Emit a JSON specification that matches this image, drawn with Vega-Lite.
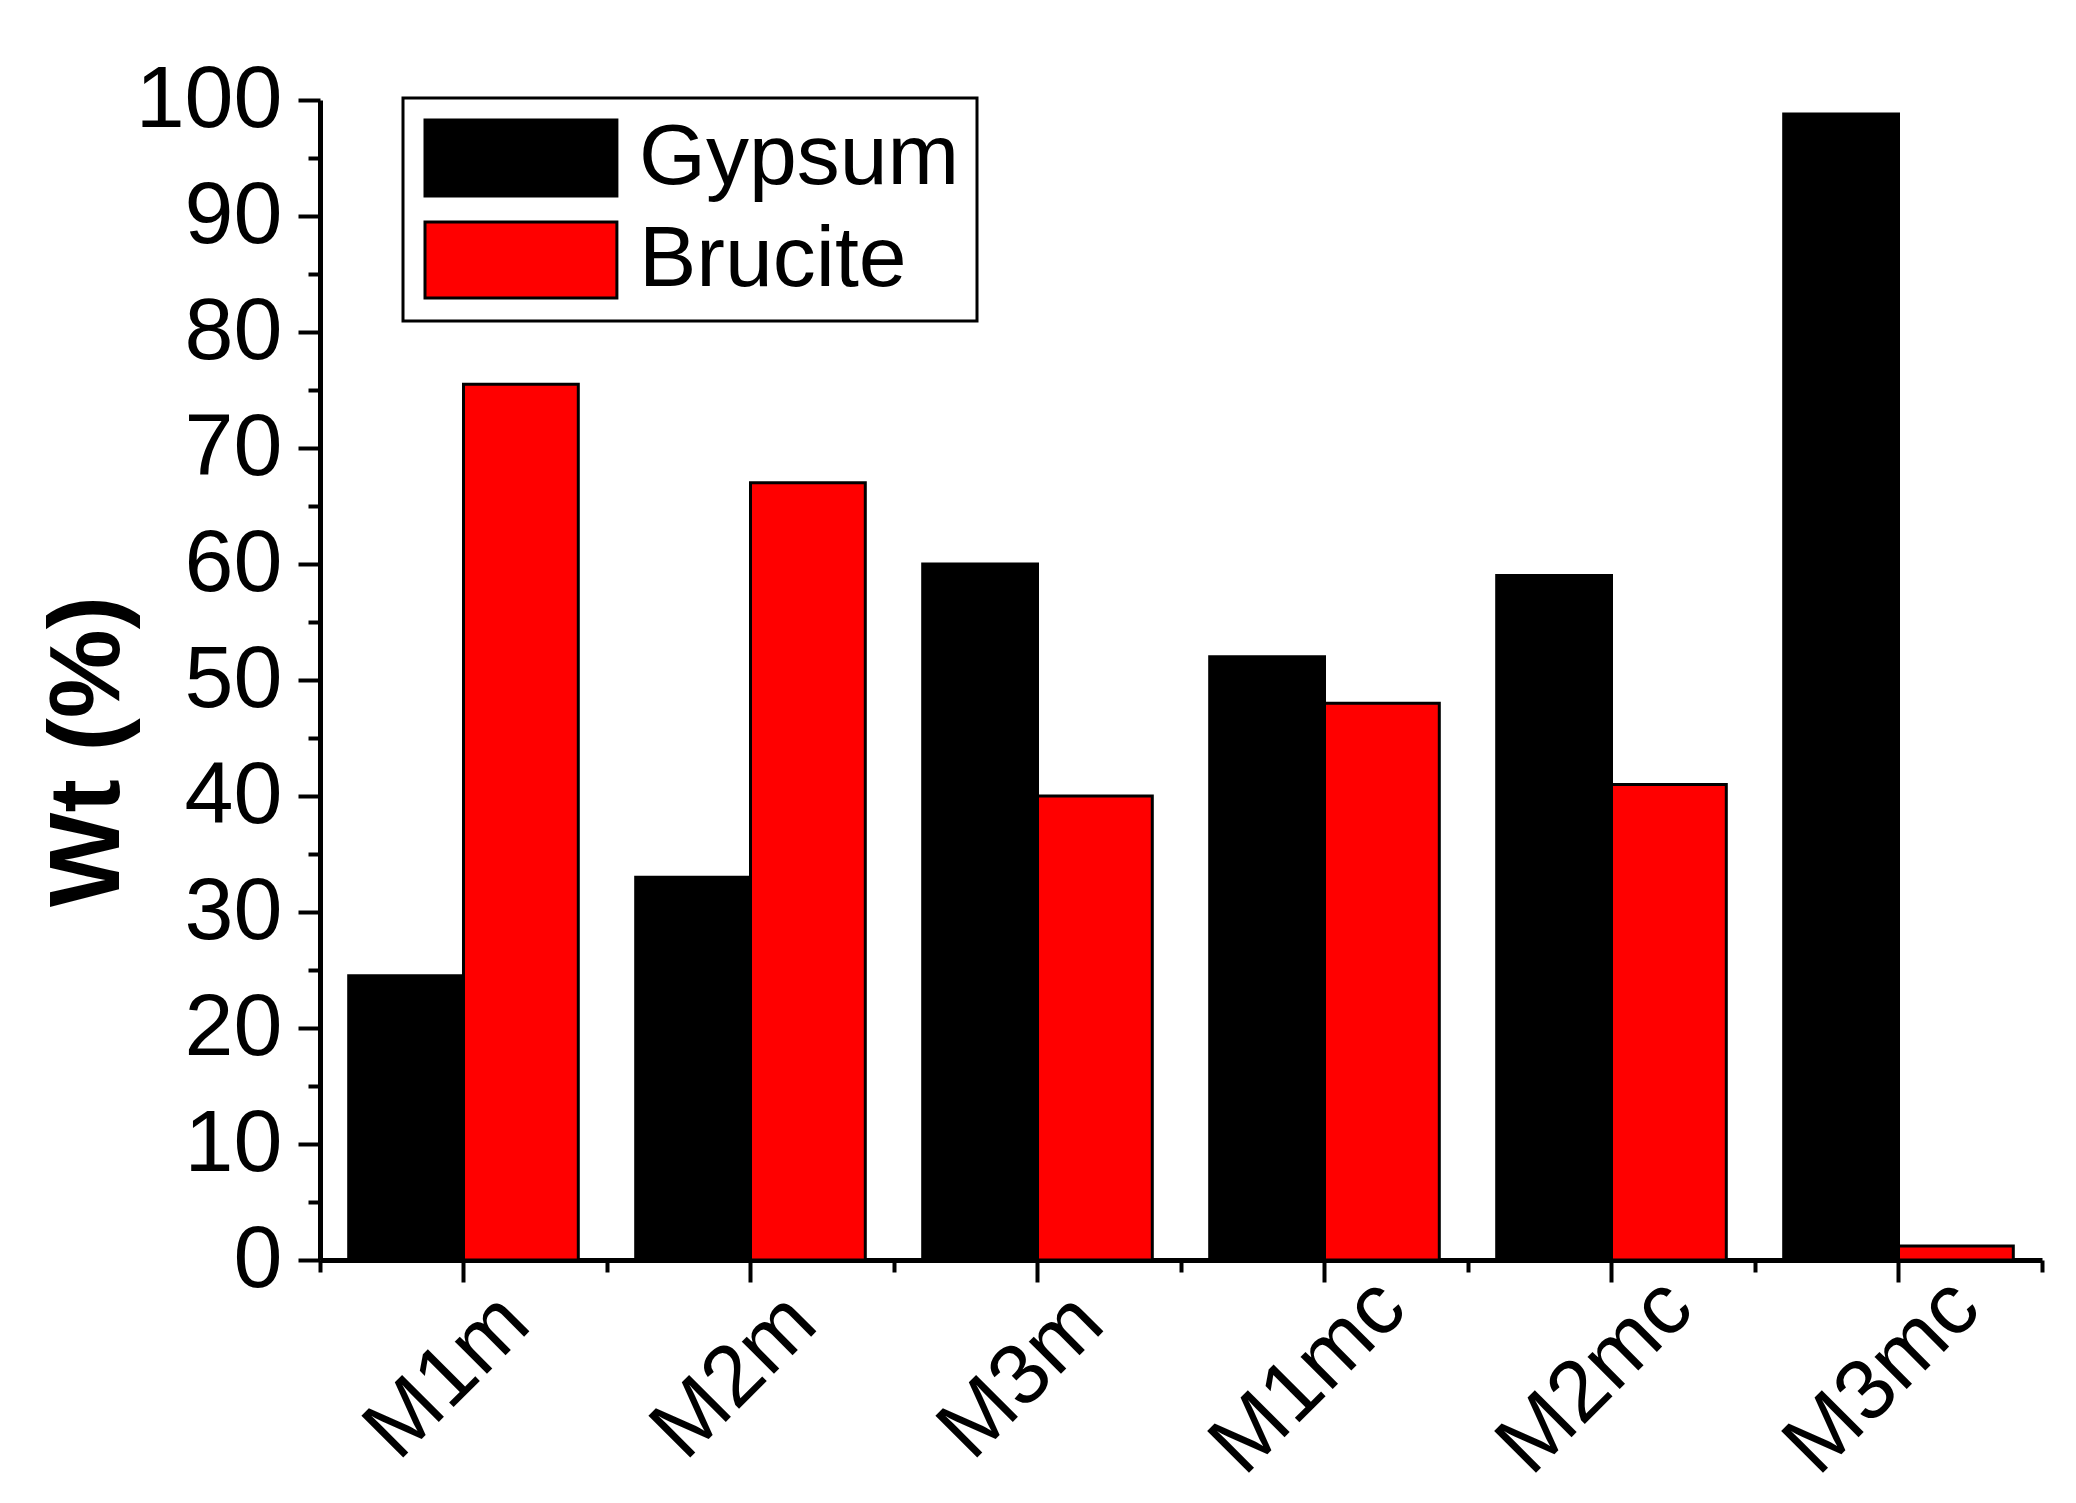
{
  "$schema": "https://vega.github.io/schema/vega-lite/v6.json",
  "width": 1722,
  "height": 1160,
  "autosize": {"type": "none"},
  "padding": {"left": 320, "top": 100, "right": 34, "bottom": 243},
  "background": "white",
  "config": {"view": {"stroke": null}, "font": "Liberation Sans", "legend": {"strokeWidth": 3}},
  "data": {
    "values": [
      {"sample": "M1m", "mineral": "Gypsum", "wt": 24.5},
      {"sample": "M1m", "mineral": "Brucite", "wt": 75.5},
      {"sample": "M2m", "mineral": "Gypsum", "wt": 33},
      {"sample": "M2m", "mineral": "Brucite", "wt": 67},
      {"sample": "M3m", "mineral": "Gypsum", "wt": 60},
      {"sample": "M3m", "mineral": "Brucite", "wt": 40},
      {"sample": "M1mc", "mineral": "Gypsum", "wt": 52},
      {"sample": "M1mc", "mineral": "Brucite", "wt": 48},
      {"sample": "M2mc", "mineral": "Gypsum", "wt": 59},
      {"sample": "M2mc", "mineral": "Brucite", "wt": 41},
      {"sample": "M3mc", "mineral": "Gypsum", "wt": 98.8},
      {"sample": "M3mc", "mineral": "Brucite", "wt": 1.2}
    ]
  },
  "layer": [
    {
      "mark": {"type": "bar", "stroke": "black", "strokeWidth": 3},
      "encoding": {
        "x": {
          "field": "sample", "type": "nominal",
          "sort": ["M1m", "M2m", "M3m", "M1mc", "M2mc", "M3mc"],
          "scale": {"paddingInner": 0, "paddingOuter": 0},
          "axis": {
            "title": null, "orient": "bottom",
            "domainColor": "black", "domainWidth": 5,
            "tickColor": "black", "tickWidth": 4, "tickSize": 22,
            "labelAngle": -45, "labelAlign": "center", "labelBaseline": "middle",
            "labelPadding": 94, "labelOffset": -16, "labelFontSize": 86, "labelFont": "Liberation Sans",
            "labelColor": "black", "labelLimit": 0, "grid": false
          }
        },
        "xOffset": {
          "field": "mineral", "sort": ["Gypsum", "Brucite"],
          "scale": {"paddingInner": 0, "paddingOuter": 0.25}
        },
        "y": {
          "field": "wt", "type": "quantitative",
          "scale": {"domain": [0, 100], "nice": false},
          "axis": {
            "orient": "left",
            "values": [0, 10, 20, 30, 40, 50, 60, 70, 80, 90, 100],
            "domainColor": "black", "domainWidth": 5,
            "tickColor": "black", "tickWidth": 4, "tickSize": 22,
            "labelFontSize": 88, "labelFont": "Liberation Sans", "labelColor": "black",
            "labelPadding": 16, "grid": false,
            "title": "Wt (%)", "titleFontSize": 100, "titleFontWeight": "bold",
            "titleFont": "Liberation Sans", "titleColor": "black",
            "titleAngle": -90, "titleAlign": "center", "titleBaseline": "alphabetic",
            "titleX": -202, "titleY": 651
          }
        },
        "color": {
          "field": "mineral", "type": "nominal",
          "scale": {"domain": ["Gypsum", "Brucite"], "range": ["#000000", "#ff0000"]},
          "legend": {
            "orient": "none", "legendX": 83, "legendY": -2,
            "title": null,
            "symbolType": "M-1,-1H4.05V1H-1Z", "symbolSize": 5776,
            "symbolStrokeColor": "black", "symbolStrokeWidth": 3, "symbolOpacity": 1,
            "labelFontSize": 86, "labelFont": "Liberation Sans", "labelColor": "black",
            "labelLimit": 0,
            "labelOffset": 133, "rowPadding": 14, "padding": 17,
            "strokeColor": "black", "fillColor": "white"
          }
        }
      }
    },
    {
      "mark": {"type": "bar", "opacity": 0},
      "encoding": {
        "x": {
          "field": "sample", "type": "nominal",
          "sort": ["M1m", "M2m", "M3m", "M1mc", "M2mc", "M3mc"],
          "axis": {
            "orient": "bottom", "title": null, "labels": false, "domain": false,
            "tickBand": "extent", "tickColor": "black", "tickWidth": 4, "tickSize": 12, "grid": false
          }
        },
        "y": {
          "field": "wt", "type": "quantitative",
          "axis": {
            "orient": "left", "title": null, "labels": false, "domain": false,
            "values": [5, 15, 25, 35, 45, 55, 65, 75, 85, 95],
            "tickColor": "black", "tickWidth": 4, "tickSize": 12, "grid": false
          }
        }
      }
    }
  ],
  "resolve": {"axis": {"x": "independent", "y": "independent"}}
}
